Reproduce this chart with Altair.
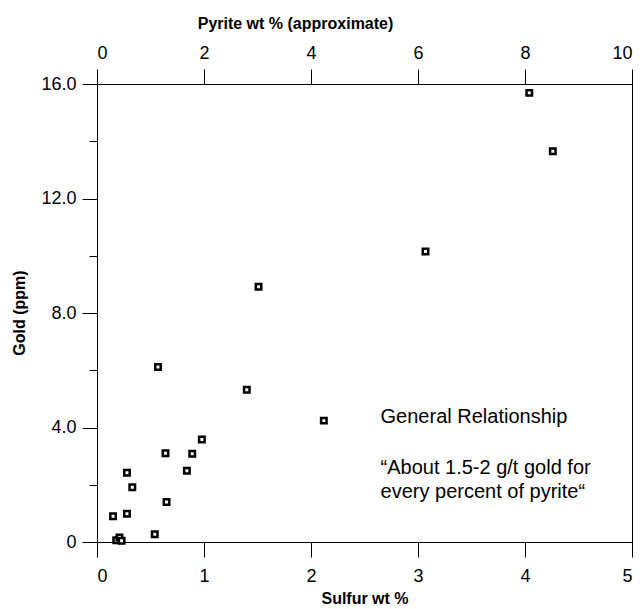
import altair as alt
import pandas as pd

# Data
sulfur = [4.04, 4.26, 3.07, 1.51, 0.57, 1.40, 2.12, 0.98, 0.64, 0.89,
          0.84, 0.28, 0.33, 0.65, 0.15, 0.28, 0.54, 0.18, 0.21, 0.23]
gold = [15.69, 13.65, 10.15, 8.92, 6.11, 5.32, 4.24, 3.58, 3.10, 3.08,
        2.49, 2.42, 1.91, 1.40, 0.90, 0.99, 0.27, 0.06, 0.16, 0.04]

x_ticks = [0, 0.5, 1, 1.5, 2, 2.5, 3, 3.5, 4, 4.5, 5]
top_ticks = [0, 1, 2, 3, 4, 5]
y_ticks = [0, 2, 4, 6, 8, 10, 12, 14, 16]

note_lines = ["General Relationship", "\u201cAbout 1.5-2 g/t gold for", "every percent of pyrite\u201c"]
note_x = [2.65, 2.65, 2.65]
note_y = [4.35, 2.57, 1.73]

pts = pd.DataFrame({"sulfur": sulfur, "gold": gold})
notes = pd.DataFrame({"text": note_lines, "x": note_x, "y": note_y})

FONT = "Liberation Sans"

xscale = alt.Scale(domain=[0, 5], nice=False, zero=False)
yscale = alt.Scale(domain=[0, 16], nice=False, zero=False)

points = alt.Chart(pts).mark_square(
    size=30, filled=True, fill="white", stroke="black", strokeWidth=2.5, opacity=1
).encode(
    x=alt.X("sulfur:Q", scale=xscale, axis=alt.Axis(
        orient="bottom", values=x_ticks, grid=False,
        tickSize=alt.ExprRef("datum.value % 1 === 0 ? 15 : 8"),
        labelExpr="datum.value % 1 === 0 ? datum.label : ''",
        format="d", labelPadding=10, labelFontSize=18, labelFont=FONT,
        labelColor="black", tickColor="black", domainColor="black",
        title="Sulfur wt %", titleFont=FONT, titleFontSize=16, titleFontWeight="bold",
        titleColor="black", titleY=61, titleBaseline="alphabetic",
    )),
    y=alt.Y("gold:Q", scale=yscale, axis=alt.Axis(
        orient="left", values=y_ticks, grid=False,
        tickSize=alt.ExprRef("datum.value % 4 === 0 ? 15 : 8"),
        labelExpr="datum.value % 4 === 0 ? (datum.value === 0 ? '0' : format(datum.value, '.1f')) : ''",
        labelPadding=6, labelFontSize=18, labelFont=FONT,
        labelColor="black", tickColor="black", domainColor="black",
        title="Gold (ppm)", titleFont=FONT, titleFontSize=16, titleFontWeight="bold",
        titleColor="black", titleX=-73, titleY=228.5, titleBaseline="alphabetic",
        titleAngle=270,
    )),
)

text = alt.Chart(notes).mark_text(
    align="left", baseline="middle", font=FONT, fontSize=20, color="black"
).encode(
    x=alt.X("x:Q", scale=xscale, axis=alt.Axis(
        orient="top", values=top_ticks, grid=False, tickSize=15,
        labelExpr="format(datum.value * 2, 'd')",
        labelPadding=7, labelFontSize=18, labelFont=FONT,
        labelColor="black", tickColor="black", domainColor="black",
        title="Pyrite wt % (approximate)", titleFont=FONT, titleFontSize=16,
        titleFontWeight="bold", titleColor="black", titleX=198, titleY=-56,
        titleBaseline="alphabetic", titleAlign="center",
    )),
    y=alt.Y("y:Q", scale=yscale),
    text="text:N",
)

chart = alt.layer(points, text).properties(
    width=535, height=458,
    autosize=alt.AutoSizeParams(type="none"),
    padding={"left": 97, "top": 84, "right": 12, "bottom": 67},
    background="white",
).configure_view(stroke="black", strokeWidth=1)

chart.save("out.html", embed_options={"renderer": "svg", "actions": False})
